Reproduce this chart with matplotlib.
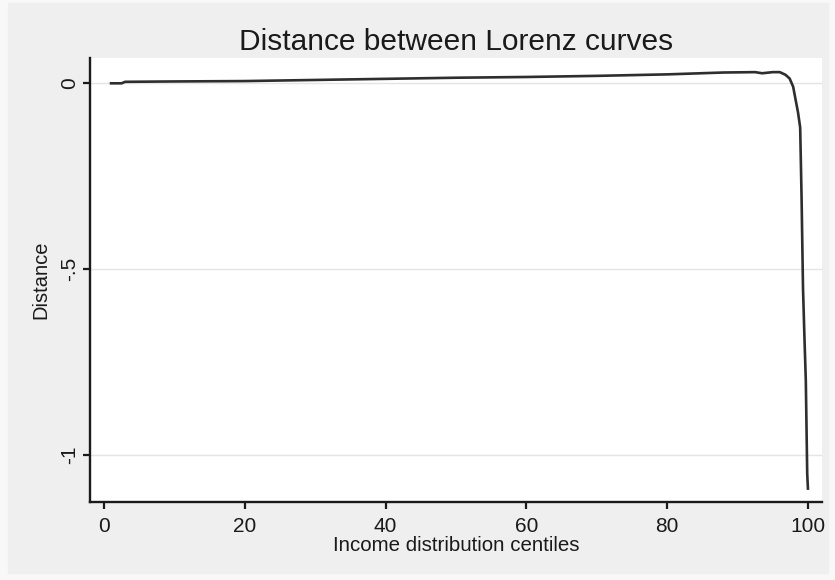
import matplotlib
matplotlib.use("Agg")
import matplotlib.pyplot as plt
from matplotlib.patches import Rectangle

plt.rcParams['font.family'] = ['Liberation Sans', 'DejaVu Sans']

# centile and distance
centile = [1, 2.5, 3, 10, 20, 30, 40, 50, 60, 70, 80, 88, 92.5, 93.5, 95, 96,
           96.8, 97.4, 97.9, 98.3, 98.6, 98.9, 99.1, 99.3, 99.5, 99.7, 99.9, 100]
distance = [-0.001, -0.001, 0.003, 0.004, 0.005, 0.008, 0.011, 0.014, 0.016,
            0.019, 0.023, 0.028, 0.029, 0.026, 0.029, 0.029, 0.022, 0.012,
            -0.01, -0.05, -0.08, -0.12, -0.31, -0.55, -0.68, -0.80, -1.05, -1.09]

xticks = [0, 20, 40, 60, 80, 100]
yticks = [0, -0.5, -1]
ylabels = ['0', '-.5', '-1']

fig = plt.figure(figsize=(8.35, 5.8), dpi=100, facecolor='#f8f8f8')
fig.patches.append(Rectangle((8/835, 1-573/580), 820/835, 570/580,
                             transform=fig.transFigure, color='#efefef', zorder=-1))

ax = fig.add_axes([90/835, 1-502/580, 732/835, 444/580])
ax.plot(centile, distance, color='#2e2e2e', lw=1.9)

ax.set_xlim(-1.99, 102)
ax.set_ylim(-1.126, 0.067)
ax.set_xticks(xticks)
ax.set_yticks(yticks)
ax.set_yticklabels(ylabels, rotation=90, va='center')
ax.yaxis.grid(True, color='#e4e4e4', lw=1)
ax.set_axisbelow(True)

for s in ['top', 'right']:
    ax.spines[s].set_visible(False)
for s in ['left', 'bottom']:
    ax.spines[s].set_linewidth(1.7)
    ax.spines[s].set_color('#1a1a1a')

ax.tick_params(axis='both', length=5, width=1.6, color='#1a1a1a',
               labelsize=15, labelcolor='#1a1a1a')
ax.tick_params(axis='x', pad=6)
ax.tick_params(axis='y', pad=3)

ax.set_title("Distance between Lorenz curves", fontsize=21.5, color='#1a1a1a', pad=6)
ax.set_xlabel("Income distribution centiles", fontsize=14.8, color='#1a1a1a', labelpad=0)
ax.set_ylabel("Distance", fontsize=14.5, color='#1a1a1a', labelpad=7)

fig.savefig("out.png", dpi=100, facecolor=fig.get_facecolor())
